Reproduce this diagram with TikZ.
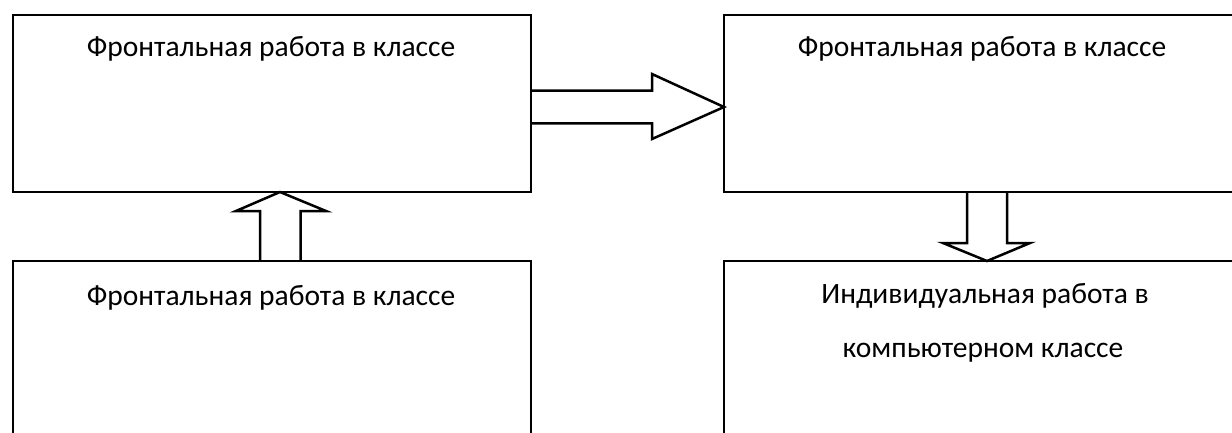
\documentclass[tikz,border=0pt]{standalone}
\usepackage{fontspec}
\setmainfont{Carlito}
\begin{document}
\begin{tikzpicture}[x=1pt,y=-1pt,
  box/.style={draw=black,line width=2.5pt,inner sep=0pt,outer sep=0pt,anchor=north west},
  lbl/.style={anchor=base,inner sep=0pt,font=\fontsize{29.5}{35}\selectfont},
  barrow/.style={draw=black,line width=2.5pt,line join=miter}]
\useasboundingbox (0,0) rectangle (1232,432);
\clip (0,0) rectangle (1232,432);
\node[box,minimum width=518pt,minimum height=177pt] (tl) at (13,15) {};
\node[box,minimum width=530pt,minimum height=177pt] (tr) at (724,15) {};
\node[box,minimum width=518pt,minimum height=200pt] (bl) at (13,261) {};
\node[box,minimum width=530pt,minimum height=200pt] (br) at (724,261) {};
\node[lbl] (tlt) at (271,56) {Фронтальная работа в классе};
\node[lbl] (trt) at (982,56) {Фронтальная работа в классе};
\node[lbl] (blt) at (271,305) {Фронтальная работа в классе};
\node[lbl] (brt1) at (985,303) {Индивидуальная работа в};
\node[lbl] (brt2) at (983,357) {компьютерном классе};
% block arrows
\draw[barrow] (tl.east |- 0,90.7) -- (652,90.7) -- (652,74) -- (tr.west |- 0,107) -- (652,139) -- (652,123.3) -- (tl.east |- 0,123.3);
\draw[barrow] (260,0 |- bl.north) -- (260,211) -- (236,211) -- (280,0 |- tl.south) -- (326,211) -- (300.7,211) -- (300.7,0 |- bl.north);
\draw[barrow] (967,0 |- tr.south) -- (967,243) -- (943,243) -- (987,0 |- br.north) -- (1030,243) -- (1007,243) -- (1007,0 |- tr.south);
\end{tikzpicture}
\end{document}
